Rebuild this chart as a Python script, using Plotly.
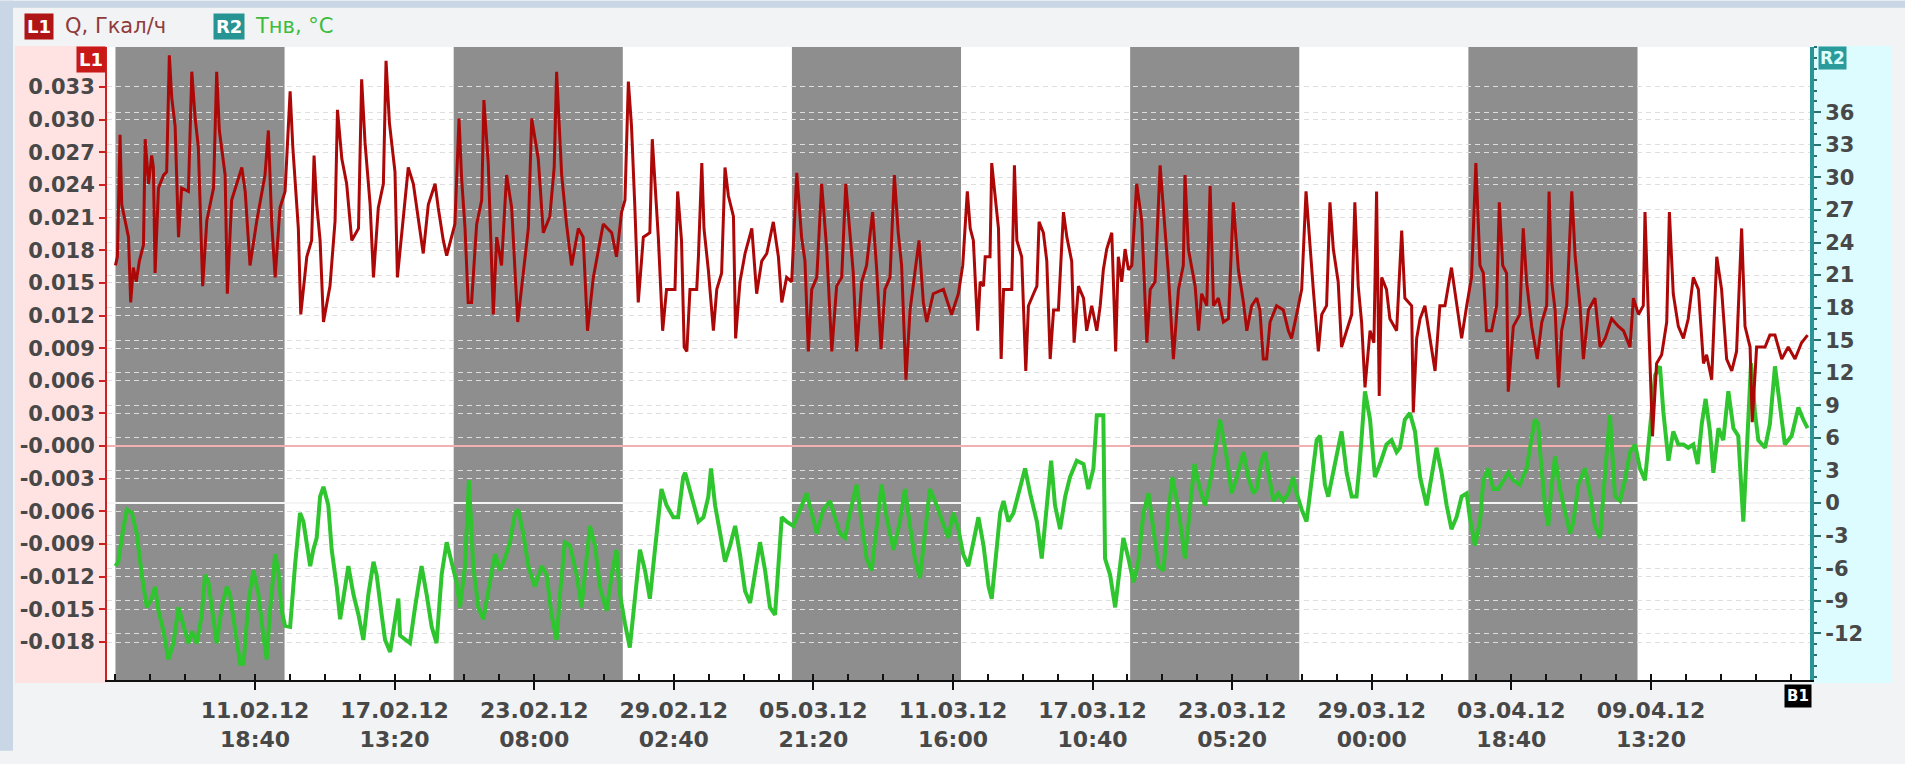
import pandas as pd
import plotly.graph_objects as go

# ---------------- data ----------------
START = "2012-02-06 00:00"          # Monday, first weekly band
X_RANGE_DAYS = (-0.35, 70.14)

# Q, Гкал/ч  (L1) : time offsets in days from START, values
Q_DAYS = [
    0.00, 0.08, 0.19, 0.26, 0.40, 0.54, 0.63, 0.74, 0.86, 0.99,
    1.16, 1.23, 1.37, 1.50, 1.57, 1.64, 1.78, 1.99, 2.12, 2.23,
    2.33, 2.47, 2.61, 2.74, 3.02, 3.16, 3.30, 3.43, 3.61, 3.78,
    4.06, 4.19, 4.30, 4.54, 4.63, 4.81, 5.23, 5.37, 5.57, 5.85,
    6.19, 6.33, 6.47, 6.61, 6.81, 7.02, 7.23, 7.34, 7.57, 7.67,
    7.92, 8.12, 8.22, 8.33, 8.47, 8.61, 8.88, 9.09, 9.19, 9.37,
    9.57, 9.78, 10.06, 10.19, 10.33, 10.54, 10.68, 10.88, 11.09, 11.20,
    11.34, 11.57, 11.67,
    12.12, 12.33, 12.60, 12.74, 12.95, 13.23, 13.36, 13.57, 13.71, 13.91,
    14.05, 14.22, 14.33, 14.47, 14.60, 14.74, 14.95, 15.16, 15.25, 15.43,
    15.64, 15.78, 15.98, 16.19, 16.40, 16.65, 16.88, 17.09, 17.23, 17.50,
    17.71, 17.98, 18.16, 18.26, 18.47, 18.67, 18.88, 19.16, 19.36, 19.54,
    19.78, 20.19, 20.54, 20.74, 20.95, 21.09, 21.23, 21.36, 21.50, 21.64,
    21.85, 22.12, 22.22, 22.47, 22.65, 22.81, 23.16, 23.27, 23.43, 23.54,
    23.65, 23.78, 24.06, 24.13, 24.27, 24.36, 24.54, 24.75, 24.89, 25.09,
    25.23, 25.37, 25.58, 25.67, 25.85, 26.06, 26.34, 26.54, 26.75, 26.96,
    27.23, 27.44, 27.58, 27.78, 27.99, 28.20, 28.40, 28.54, 28.68, 28.82,
    29.03, 29.23, 29.44, 29.65, 29.85, 30.06, 30.23, 30.40, 30.54, 30.68,
    30.89, 31.09, 31.34, 31.51, 31.69, 31.85, 32.06, 32.24, 32.40, 32.54,
    32.72, 32.89, 33.09, 33.26, 33.44, 33.58, 33.85, 34.27, 34.61, 34.89,
    35.07, 35.26,
    35.38, 35.51, 35.69, 35.79, 35.93, 36.00, 36.20, 36.27, 36.41, 36.55,
    36.66, 36.76, 37.10, 37.21, 37.31, 37.51, 37.68, 37.79, 38.00, 38.14,
    38.23, 38.41, 38.55, 38.69, 38.83, 39.03, 39.24, 39.38, 39.58, 39.68,
    39.86, 40.07, 40.20, 40.41, 40.62, 40.76, 40.89, 41.03, 41.24, 41.40,
    41.51, 41.65, 41.79, 41.93, 42.07, 42.27, 42.48, 42.69, 42.83, 43.03,
    43.24, 43.45, 43.58, 43.79, 44.00, 44.20, 44.27, 44.41, 44.69, 44.83,
    44.96, 45.17, 45.31, 45.45, 45.65, 45.86, 46.07, 46.27, 46.48, 46.69,
    46.83, 47.03,
    47.24, 47.37, 47.51, 47.65, 47.79, 48.06, 48.34, 48.55, 48.68, 48.89,
    49.10, 49.28, 49.42, 49.58, 49.79, 49.93, 50.13, 50.27, 50.41, 50.61,
    50.75, 50.96, 51.17, 51.30, 51.44, 51.58, 51.72, 51.93, 52.09, 52.20,
    52.31, 52.41, 52.61, 52.75, 53.03, 53.24, 53.37, 53.65, 53.72, 53.86,
    54.00, 54.20, 54.41, 54.62, 54.82, 55.03, 55.30, 55.51, 55.72, 55.93,
    56.13, 56.31, 56.48, 56.62, 56.75, 56.96, 57.17, 57.28, 57.42, 57.58,
    57.65, 57.86, 58.13, 58.27, 58.41, 58.62, 58.85,
    59.04, 59.24, 59.34, 59.45, 59.59, 59.73, 59.86, 60.07, 60.28, 60.42,
    60.62, 60.76, 60.97, 61.24, 61.45, 61.66, 61.93, 62.21, 62.42, 62.69,
    62.83, 63.04, 63.24, 63.31, 63.45, 63.62, 63.79, 64.00, 64.21, 64.32,
    64.48, 64.69, 64.90, 65.10, 65.31, 65.52, 65.73, 65.86, 66.07, 66.28,
    66.48, 66.69, 66.90, 67.10, 67.31, 67.45, 67.66, 67.75, 67.93, 68.28,
    68.48, 68.69, 68.97, 69.24, 69.52, 69.79, 70.04,
]
Q_VALUES = [
    0.0166, 0.0174, 0.0286, 0.0222, 0.0207, 0.0192, 0.0132, 0.0164, 0.0151, 0.0170,
    0.0185, 0.0282, 0.0241, 0.0267, 0.0256, 0.0159, 0.0237, 0.0249, 0.0252, 0.0359,
    0.0320, 0.0294, 0.0192, 0.0237, 0.0234, 0.0344, 0.0301, 0.0275, 0.0147, 0.0207,
    0.0237, 0.0344, 0.0290, 0.0249, 0.0140, 0.0226, 0.0256, 0.0234, 0.0166, 0.0207,
    0.0249, 0.0290, 0.0204, 0.0155, 0.0219, 0.0234, 0.0326, 0.0275, 0.0200, 0.0121,
    0.0174, 0.0189, 0.0267, 0.0222, 0.0189, 0.0114, 0.0147, 0.0207, 0.0309, 0.0264,
    0.0241, 0.0189, 0.0200, 0.0337, 0.0279, 0.0222, 0.0155, 0.0219, 0.0241, 0.0354,
    0.0297, 0.0252, 0.0155,
    0.0256, 0.0241, 0.0196, 0.0177, 0.0222, 0.0241, 0.0219, 0.0189, 0.0175, 0.0192,
    0.0204, 0.0301, 0.0245, 0.0200, 0.0132, 0.0132, 0.0204, 0.0226, 0.0318, 0.0260,
    0.0121, 0.0192, 0.0166, 0.0249, 0.0219, 0.0114, 0.0159, 0.0200, 0.0301, 0.0264,
    0.0196, 0.0211, 0.0256, 0.0344, 0.0249, 0.0204, 0.0166, 0.0200, 0.0192, 0.0106,
    0.0155, 0.0204, 0.0196, 0.0174, 0.0215, 0.0226, 0.0335, 0.0294, 0.0219, 0.0132,
    0.0192, 0.0196, 0.0282, 0.0192, 0.0106, 0.0144, 0.0144, 0.0234, 0.0189, 0.0091,
    0.0087, 0.0144, 0.0144, 0.0174, 0.0260, 0.0200, 0.0162, 0.0106, 0.0144, 0.0159,
    0.0256, 0.0230, 0.0211, 0.0099, 0.0151, 0.0177, 0.0200, 0.0140, 0.0170, 0.0177,
    0.0206, 0.0174, 0.0132, 0.0155, 0.0151, 0.0251, 0.0192, 0.0170, 0.0087, 0.0144,
    0.0155, 0.0241, 0.0181, 0.0087, 0.0147, 0.0155, 0.0241, 0.0200, 0.0159, 0.0087,
    0.0151, 0.0166, 0.0215, 0.0162, 0.0089, 0.0144, 0.0155, 0.0249, 0.0196, 0.0166,
    0.0061, 0.0125, 0.0162, 0.0189, 0.0132, 0.0114, 0.0140, 0.0144, 0.0121, 0.0140,
    0.0166, 0.0234,
    0.0200, 0.0189, 0.0106, 0.0151, 0.0147, 0.0174, 0.0174, 0.0260, 0.0230, 0.0200,
    0.0080, 0.0144, 0.0144, 0.0258, 0.0189, 0.0174, 0.0069, 0.0129, 0.0140, 0.0147,
    0.0206, 0.0196, 0.0170, 0.0080, 0.0125, 0.0125, 0.0215, 0.0192, 0.0170, 0.0095,
    0.0147, 0.0136, 0.0106, 0.0129, 0.0106, 0.0129, 0.0162, 0.0181, 0.0196, 0.0087,
    0.0174, 0.0151, 0.0181, 0.0162, 0.0166, 0.0241, 0.0207, 0.0095, 0.0144, 0.0151,
    0.0258, 0.0200, 0.0159, 0.0080, 0.0144, 0.0166, 0.0249, 0.0181, 0.0147, 0.0106,
    0.0140, 0.0129, 0.0239, 0.0129, 0.0136, 0.0114, 0.0117, 0.0224, 0.0162, 0.0132,
    0.0106, 0.0129,
    0.0136, 0.0125, 0.0080, 0.0080, 0.0114, 0.0129, 0.0125, 0.0106, 0.0099, 0.0121,
    0.0144, 0.0234, 0.0189, 0.0144, 0.0087, 0.0121, 0.0129, 0.0224, 0.0181, 0.0151,
    0.0091, 0.0106, 0.0121, 0.0224, 0.0147, 0.0114, 0.0054, 0.0106, 0.0095, 0.0234,
    0.0046, 0.0155, 0.0144, 0.0117, 0.0106, 0.0198, 0.0136, 0.0129, 0.0031, 0.0099,
    0.0117, 0.0129, 0.0099, 0.0069, 0.0129, 0.0129, 0.0164, 0.0129, 0.0099, 0.0129,
    0.0155, 0.0260, 0.0166, 0.0159, 0.0106, 0.0106, 0.0129, 0.0224, 0.0166, 0.0159,
    0.0050, 0.0110, 0.0121, 0.0200, 0.0151, 0.0110, 0.0080,
    0.0114, 0.0129, 0.0234, 0.0151, 0.0125, 0.0054, 0.0106, 0.0129, 0.0234, 0.0174,
    0.0129, 0.0080, 0.0125, 0.0136, 0.0091, 0.0099, 0.0117, 0.0110, 0.0106, 0.0091,
    0.0136, 0.0121, 0.0129, 0.0215, 0.0121, 0.0009, 0.0076, 0.0084, 0.0114, 0.0215,
    0.0140, 0.0110, 0.0099, 0.0117, 0.0155, 0.0144, 0.0076, 0.0084, 0.0061, 0.0174,
    0.0144, 0.0080, 0.0069, 0.0087, 0.0200, 0.0110, 0.0091, 0.0022, 0.0091, 0.0091,
    0.0102, 0.0102, 0.0080, 0.0091, 0.0080, 0.0095, 0.0102,
]

# Тнв, °C  (R2)
T_DAYS = [
    0.00, 0.12, 0.26, 0.47, 0.68, 0.88, 1.09, 1.30, 1.50, 1.64,
    1.78, 1.99, 2.19, 2.40, 2.61, 2.74, 2.88, 3.02, 3.16, 3.37,
    3.57, 3.71, 3.85, 4.06, 4.19, 4.40, 4.61, 4.74, 4.95, 5.16,
    5.30, 5.50, 5.71, 5.92, 6.12, 6.26, 6.40, 6.61, 6.74, 6.88,
    7.02, 7.23, 7.43, 7.64, 7.78, 8.06, 8.19, 8.33, 8.47, 8.61,
    8.81, 8.95, 9.16, 9.30, 9.43, 9.64, 9.85, 10.06, 10.26, 10.47,
    10.68, 10.81, 11.02, 11.16, 11.37, 11.57, 11.71,
    11.78, 11.98, 12.19, 12.40, 12.67, 12.88, 13.09, 13.29, 13.50, 13.71,
    13.91, 14.12, 14.26, 14.47, 14.63, 14.81, 15.02, 15.23, 15.43, 15.71,
    15.91, 16.12, 16.33, 16.54, 16.67, 16.88, 17.09, 17.36, 17.64, 17.85,
    18.05, 18.26, 18.40, 18.60, 18.81, 19.09, 19.29, 19.50, 19.64, 19.85,
    20.05, 20.33, 20.54, 20.74, 20.88, 21.09, 21.29, 21.50, 21.71, 21.92,
    22.12, 22.33, 22.60, 22.81, 23.09, 23.29, 23.50,
    23.58, 23.71, 23.92, 24.13, 24.34, 24.54, 24.65, 24.82, 25.03, 25.23,
    25.44, 25.65, 25.85, 26.06, 26.27, 26.47, 26.68, 26.89, 27.09, 27.30,
    27.44, 27.58, 27.78, 28.06, 28.34, 28.61, 28.82, 29.03, 29.30, 29.58,
    29.78, 29.99, 30.20, 30.40, 30.68, 30.89, 31.09, 31.30, 31.51, 31.71,
    31.92, 32.20, 32.47, 32.68, 32.89, 33.09, 33.30, 33.51, 33.71, 33.99,
    34.27, 34.47, 34.68, 34.89, 35.09, 35.30,
    35.51, 35.72, 35.93, 36.14, 36.27, 36.41, 36.62, 36.76, 36.96, 37.17,
    37.45, 37.65, 37.86, 38.14, 38.34, 38.55, 38.73, 38.89, 39.10, 39.31,
    39.51, 39.79, 40.07, 40.27, 40.48, 40.62, 40.89, 40.96, 41.17, 41.38,
    41.58, 41.72, 41.93, 42.14, 42.34, 42.55, 42.76, 42.96, 43.17, 43.38,
    43.58, 43.75, 44.00, 44.27, 44.44, 44.66, 44.89, 45.10, 45.38, 45.72,
    45.99, 46.20, 46.41, 46.69, 46.89, 47.10,
    47.24, 47.44, 47.58, 47.72, 47.93, 48.13, 48.34, 48.55, 48.75, 48.89,
    49.10, 49.30, 49.51, 49.72, 49.86, 50.06, 50.20, 50.41, 50.61, 50.75,
    50.96, 51.17, 51.37, 51.51, 51.72, 51.93, 52.13, 52.34, 52.61, 52.82,
    53.03, 53.17, 53.37, 53.58, 53.79, 54.00, 54.27, 54.48, 54.68, 54.89,
    55.10, 55.30, 55.51, 55.72, 55.93, 56.06, 56.27, 56.48, 56.62, 56.82,
    57.03, 57.24, 57.44, 57.65, 57.86, 58.13, 58.41, 58.62, 58.75, 58.89,
    58.97, 59.17, 59.31, 59.45, 59.59, 59.79, 60.00, 60.21, 60.35, 60.55,
    60.83, 61.04, 61.24, 61.45, 61.66, 61.86, 62.07, 62.28, 62.48, 62.69,
    62.90, 63.10, 63.31, 63.52, 63.73, 63.93, 64.07, 64.28, 64.48, 64.69,
    64.90, 65.10, 65.31, 65.49, 65.66, 65.82, 66.00, 66.14, 66.35, 66.55,
    66.76, 66.97, 67.17, 67.38, 67.52, 67.70, 67.86, 68.00, 68.28, 68.48,
    68.69, 68.90, 69.10, 69.38, 69.66, 69.86, 70.04,
]
T_VALUES = [
    -5.8, -5.4, -3.2, -0.6, -0.9, -2.8, -6.6, -9.6, -8.8, -7.7,
    -9.9, -11.8, -14.4, -12.9, -9.6, -10.7, -11.8, -12.9, -11.8, -12.9,
    -10.3, -6.6, -7.3, -11.1, -12.9, -9.6, -7.7, -8.4, -11.8, -14.8,
    -14.8, -9.2, -6.2, -8.4, -12.2, -14.4, -9.9, -4.7, -6.2, -9.9,
    -11.3, -11.4, -5.8, -0.9, -1.7, -5.8, -4.3, -3.2, 0.6, 1.5,
    -0.2, -4.3, -7.7, -10.7, -8.8, -5.8, -8.4, -10.3, -12.6, -8.4,
    -5.4, -6.6, -10.3, -12.6, -13.7, -11.1, -8.8,
    -12.2, -12.6, -12.9, -9.6, -5.8, -8.4, -11.4, -12.9, -6.6, -3.6,
    -5.4, -7.3, -9.6, -5.8, 2.1, -5.8, -9.6, -10.7, -8.1, -4.7,
    -6.2, -5.1, -3.6, -0.9, -0.6, -2.8, -5.8, -7.7, -5.8, -6.6,
    -10.3, -12.6, -8.4, -3.6, -3.9, -6.6, -9.6, -4.7, -2.1, -3.9,
    -7.7, -9.9, -6.6, -4.3, -8.4, -11.1, -13.3, -8.8, -4.3, -6.2,
    -8.8, -4.3, 1.3, -0.2, -1.3, -1.3, 2.4,
    2.8, 1.7, -0.2, -1.7, -1.3, 0.6, 3.2, -0.2, -2.8, -5.4,
    -3.9, -2.1, -4.7, -8.1, -9.2, -6.2, -3.6, -6.2, -9.6, -10.3,
    -6.2, -1.3, -1.7, -2.1, -0.6, 0.9, -0.9, -2.8, -0.6, 0.2,
    -1.3, -2.8, -3.2, -0.9, 1.7, -1.7, -5.1, -6.2, -2.1, 1.7,
    -1.3, -4.3, -1.7, 1.3, -2.1, -5.1, -6.9, -2.8, 1.3, -0.2,
    -2.1, -3.2, -0.9, -2.4, -4.7, -5.8,
    -3.6, -1.3, -3.9, -7.7, -8.8, -5.8, -0.9, 0.2, -1.7, -0.9,
    1.3, 3.2, 0.9, -1.7, -5.1, -0.2, 3.9, -0.2, -2.4, 0.6,
    2.4, 3.9, 3.6, 1.3, 3.2, 8.1, 8.1, -5.1, -6.6, -9.6,
    -6.2, -3.2, -5.1, -7.3, -5.4, -0.9, 0.9, -2.4, -5.8, -6.2,
    -0.9, 2.4, -0.6, -5.1, -0.9, 3.6, 1.3, -0.2, 2.8, 7.7,
    4.3, 0.9, 2.4, 4.7, 2.4, 0.9,
    1.3, 3.9, 4.7, 2.8, 0.2, 0.9, 0.2, 0.9, 2.4, 0.9,
    -0.6, -1.7, 2.4, 5.8, 6.2, 1.7, 0.6, 2.8, 5.1, 6.6,
    2.8, 0.6, 0.6, 3.9, 10.3, 7.7, 2.4, 3.6, 5.4, 5.8,
    4.7, 5.1, 7.7, 8.3, 6.6, 2.4, -0.2, 2.4, 5.1, 2.8,
    -0.2, -2.4, -1.3, 0.6, 0.9, -1.3, -3.9, -1.7, 2.1, 3.2,
    1.3, 1.3, 2.1, 2.8, 2.1, 1.7, 3.2, 6.2, 7.7, 7.3,
    4.7, -0.2, -2.1, 1.7, 4.3, 1.3, -0.9, -2.8, -1.7, 1.7,
    3.2, 0.9, -2.1, -3.2, 2.8, 8.1, 0.6, 0.2, 2.1, 4.7,
    5.4, 3.2, 2.1, 6.6, 11.8, 12.6, 8.4, 3.9, 6.6, 5.4,
    5.4, 5.1, 5.4, 3.6, 7.3, 9.6, 6.6, 2.8, 6.9, 5.8,
    10.3, 6.9, 6.2, -1.7, 5.4, 12.9, 8.4, 5.8, 5.1, 7.3,
    12.6, 9.2, 5.4, 6.2, 8.8, 7.7, 6.9,
]

X_TICK_DATES = ["2012-02-11 18:40", "2012-02-17 13:20", "2012-02-23 08:00",
                "2012-02-29 02:40", "2012-03-05 21:20", "2012-03-11 16:00",
                "2012-03-17 10:40", "2012-03-23 05:20", "2012-03-29 00:00",
                "2012-04-03 18:40", "2012-04-09 13:20"]
X_TICK_TEXT = ["11.02.12<br>18:40", "17.02.12<br>13:20", "23.02.12<br>08:00",
               "29.02.12<br>02:40", "05.03.12<br>21:20", "11.03.12<br>16:00",
               "17.03.12<br>10:40", "23.03.12<br>05:20", "29.03.12<br>00:00",
               "03.04.12<br>18:40", "09.04.12<br>13:20"]
X_MINOR_STEP_MS = 124800000  # quarter of the 5d18h40m label step

L1_TICKS = [0.033, 0.030, 0.027, 0.024, 0.021, 0.018, 0.015, 0.012, 0.009, 0.006,
            0.003, 0.000, -0.003, -0.006, -0.009, -0.012, -0.015, -0.018]
L1_TICK_TEXT = ["0.033", "0.030", "0.027", "0.024", "0.021", "0.018", "0.015",
                "0.012", "0.009", "0.006", "0.003", "-0.000", "-0.003", "-0.006",
                "-0.009", "-0.012", "-0.015", "-0.018"]
L1_RANGE = [-0.02149, 0.03667]

R2_TICKS = [36, 33, 30, 27, 24, 21, 18, 15, 12, 9, 6, 3, 0, -3, -6, -9, -12]
R2_TICK_TEXT = [str(v) for v in R2_TICKS]
R2_RANGE = [-16.29, 42.01]

GRAY_WEEKS = ["2012-02-06", "2012-02-20", "2012-03-05", "2012-03-19", "2012-04-02"]

# ---------------- figure ----------------
W, H = 1905, 764
ML, MR, MT, MB = 107, 95, 47, 72


def px(p):
    return (p - ML) / (W - ML - MR)


def py(p):
    return (H - MB - p) / (H - MT - MB)


start = pd.Timestamp(START)
q_x = [start + pd.to_timedelta(d, unit="D") for d in Q_DAYS]
t_x = [start + pd.to_timedelta(d, unit="D") for d in T_DAYS]
x_range = [start + pd.to_timedelta(X_RANGE_DAYS[0], unit="D"),
           start + pd.to_timedelta(X_RANGE_DAYS[1], unit="D")]

RED = "#ad0808"
GREEN = "#2ec52e"
TEAL = "#2a9494"
GRID = "#dedede"
FONT = "DejaVu Sans"
LABEL = "#484848"

fig = go.Figure()
fig.add_trace(go.Scatter(x=t_x, y=T_VALUES, mode="lines", name="Тнв, °C",
                         line=dict(color=GREEN, width=4), yaxis="y"))
fig.add_trace(go.Scatter(x=q_x, y=Q_VALUES, mode="lines", name="Q, Гкал/ч",
                         line=dict(color=RED, width=3), yaxis="y2"))

shapes = []
# window frame / side panels
shapes.append(dict(type="rect", xref="paper", yref="paper", x0=px(0), x1=px(13),
                   y0=py(H), y1=py(0), fillcolor="#c8d6e5", line_width=0, layer="below"))
shapes.append(dict(type="rect", xref="paper", yref="paper", x0=px(0), x1=px(W),
                   y0=py(7), y1=py(0), fillcolor="#c8d6e5", line_width=0, layer="below"))
shapes.append(dict(type="rect", xref="paper", yref="paper", x0=px(15), x1=px(ML),
                   y0=py(695), y1=py(46), fillcolor="#ffe3e3", line_width=0, layer="below"))
shapes.append(dict(type="rect", xref="paper", yref="paper", x0=px(1810), x1=px(1892),
                   y0=py(695), y1=py(46), fillcolor="#ddfcff", line_width=0, layer="below"))
# weekly gray bands
for wk in GRAY_WEEKS:
    s = pd.Timestamp(wk)
    shapes.append(dict(type="rect", xref="x", yref="y", x0=s, x1=s + pd.Timedelta(days=7),
                       y0=R2_RANGE[0] - 10, y1=R2_RANGE[1] + 10,
                       fillcolor="#8e8e8e", line_width=0, layer="below"))

annotations = [
    dict(x=px(38.5), y=py(26), text="<b>L1</b>", bgcolor="#b01515",
         font=dict(family=FONT, size=18, color="white"), borderpad=2),
    dict(x=px(63), y=py(26), xanchor="left", text="Q, Гкал/ч",
         font=dict(family=FONT, size=21, color="#8f3b3b")),
    dict(x=px(228.5), y=py(26), text="<b>R2</b>", bgcolor="#279494",
         font=dict(family=FONT, size=18, color="white"), borderpad=2),
    dict(x=px(253), y=py(26), xanchor="left", text="Тнв, °C",
         font=dict(family=FONT, size=21, color="#3dbd3d")),
    dict(x=px(90.5), y=py(59.5), text="<b>L1</b>", bgcolor="#c81818",
         font=dict(family=FONT, size=18, color="white"), borderpad=2),
    dict(x=px(1832), y=py(58), text="<b>R2</b>", bgcolor="#2a9a9a",
         font=dict(family=FONT, size=17, color="#dcffff"), borderpad=1),
    dict(x=px(1798), y=py(708), text="<b>B1</b>", bgcolor="#000000",
         font=dict(family=FONT, size=15, color="white"), borderpad=2),
]
for a in annotations:
    a.setdefault("xanchor", "center")
    a.update(xref="paper", yref="paper", yanchor="middle", showarrow=False)

fig.update_layout(
    width=W, height=H,
    margin=dict(l=ML, r=MR, t=MT, b=MB, pad=0),
    paper_bgcolor="#f2f3f4", plot_bgcolor="white",
    font=dict(family=FONT, size=21, color=LABEL),
    showlegend=False,
    shapes=shapes,
    annotations=annotations,
    xaxis=dict(type="date", range=x_range, tickmode="array",
               tickvals=X_TICK_DATES, ticktext=X_TICK_TEXT,
               ticks="outside", ticklen=8, tickwidth=2, tickcolor="#111111",
               ticklabelstandoff=2,
               showline=True, linecolor="#111111", linewidth=2,
               showgrid=False, zeroline=False,
               tickfont=dict(family=FONT, size=22, color=LABEL, weight="bold"),
               minor=dict(tickmode="linear", tick0=START, dtick=X_MINOR_STEP_MS,
                          ticks="inside", ticklen=6, tickwidth=1.5,
                          tickcolor="#111111", showgrid=False)),
    yaxis=dict(range=R2_RANGE, side="right", tickmode="array",
               tickvals=R2_TICKS, ticktext=R2_TICK_TEXT,
               ticks="outside", ticklen=7, tickwidth=1.5, tickcolor="#2a7070",
               showline=True, linecolor=TEAL, linewidth=4,
               showgrid=True, gridcolor=GRID, gridwidth=1, griddash="5px,4px",
               zeroline=True, zerolinecolor="#f4f4f4", zerolinewidth=2,
               tickfont=dict(family=FONT, size=21, color=LABEL, weight="bold"),
               minor=dict(tickmode="linear", tick0=0, dtick=1, ticks="outside",
                          ticklen=3, tickcolor="#2a7070", showgrid=False)),
    yaxis2=dict(range=L1_RANGE, side="left", overlaying="y", tickmode="array",
                tickvals=L1_TICKS, ticktext=L1_TICK_TEXT,
                ticks="outside", ticklen=6, tickwidth=1.5, tickcolor="#cc2222",
                showline=True, linecolor="#cc2222", linewidth=2,
                showgrid=True, gridcolor=GRID, gridwidth=1, griddash="5px,4px",
                zeroline=True, zerolinecolor="#f2b0b0", zerolinewidth=1.5,
                tickfont=dict(family=FONT, size=21, color=LABEL, weight="bold")),
)

fig.write_html("out.html", config={"displayModeBar": False},
               post_script="document.body.style.margin='0';document.body.style.overflow='hidden';")
